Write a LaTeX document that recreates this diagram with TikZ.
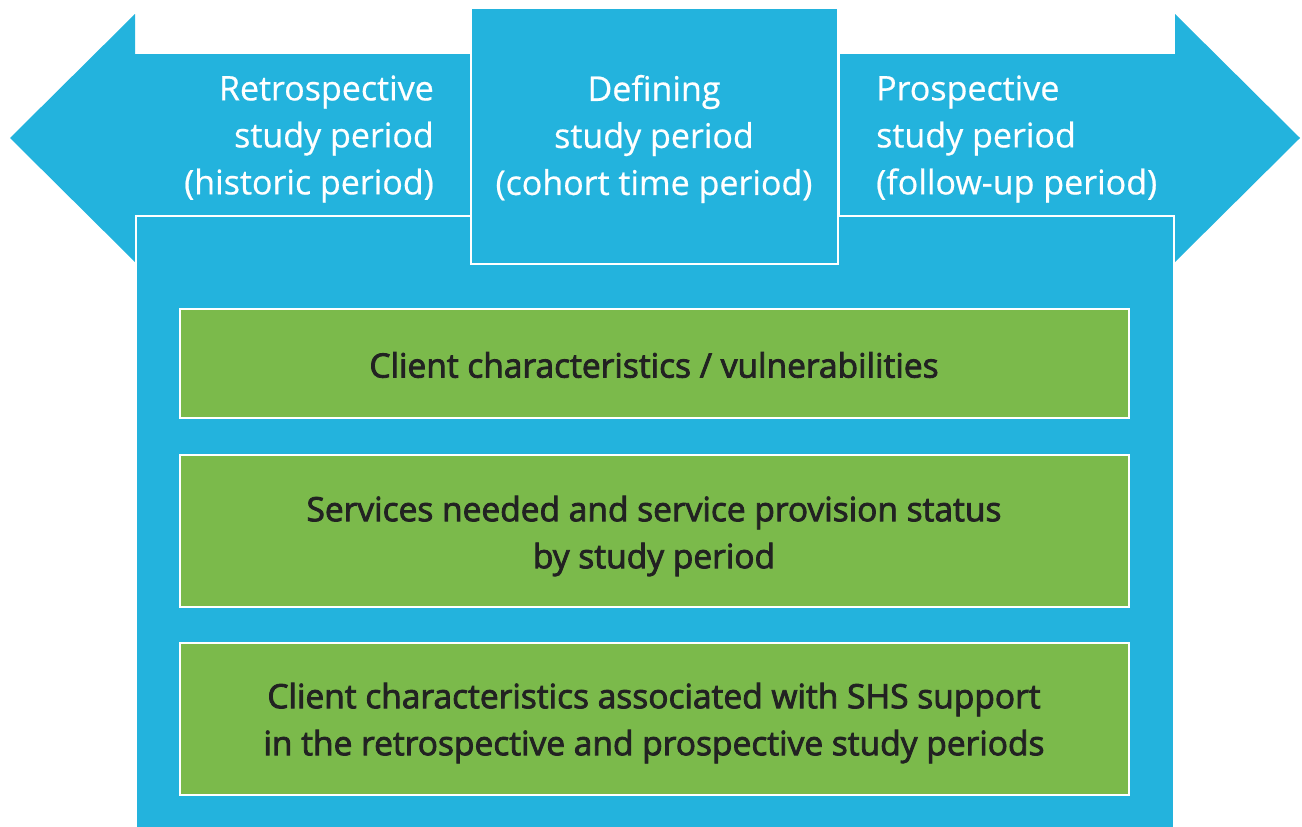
\documentclass[tikz,border=0pt]{standalone}
\usepackage{fontspec}
\setmainfont{Open Sans}
\newfontfamily\semib[FakeBold=2.5]{Open Sans}
\newfontfamily\topfont[FakeBold=0.6]{Open Sans}
\definecolor{bluefill}{HTML}{23B3DD}
\definecolor{greenfill}{HTML}{7BBA4B}
\definecolor{darktext}{HTML}{222222}
\begin{document}
\begin{tikzpicture}[x=1pt,y=-1pt,
  bluebox/.style={fill=bluefill,draw=white,line width=2.5pt},
  greenbox/.style={fill=greenfill,draw=white,line width=2.5pt},
  toptext/.style={text=white,font=\topfont\fontsize{34}{47}\selectfont,inner sep=0pt},
  greentext/.style={text=darktext,font=\semib\fontsize{33.5}{47}\selectfont,align=center,inner sep=0pt}]
\useasboundingbox (0,0) rectangle (1302,827);
\begin{scope}
\clip (0,0) rectangle (1302,827);
% left arrow
\fill[bluefill] (10,138) -- (135,14) -- (135,54) -- (470,54) -- (470,216) -- (135,216) -- (135,262) -- cycle;
% right arrow
\fill[bluefill] (1300,138) -- (1175,14) -- (1175,54) -- (840,54) -- (840,216) -- (1175,216) -- (1175,262) -- cycle;
% big box
\path[bluebox] (136,216) rectangle (1174,840);
% center box
\path[bluebox] (471,8) rectangle (838,264);
% green boxes
\path[greenbox] (180,309) rectangle (1129,418);
\path[greenbox] (180,455) rectangle (1129,607);
\path[greenbox] (180,643) rectangle (1129,795);
\end{scope}
\node[toptext,align=right,anchor=east] (retro) at (434,139) {Retrospective\\study period\\(historic period)};
\node[toptext,align=center] (defining) at (654,139) {Defining\\study period\\(cohort time period)};
\node[toptext,align=left,anchor=west] (prosp) at (876,139) {Prospective\\study period\\(follow-up period)};
\node[greentext] (g1) at (654,365) {Client characteristics / vulnerabilities};
\node[greentext] (g2) at (654,536) {Services needed and service provision status\\by study period};
\node[greentext] (g3) at (654,723) {Client characteristics associated with SHS support\\in the retrospective and prospective study periods};
\end{tikzpicture}
\end{document}
